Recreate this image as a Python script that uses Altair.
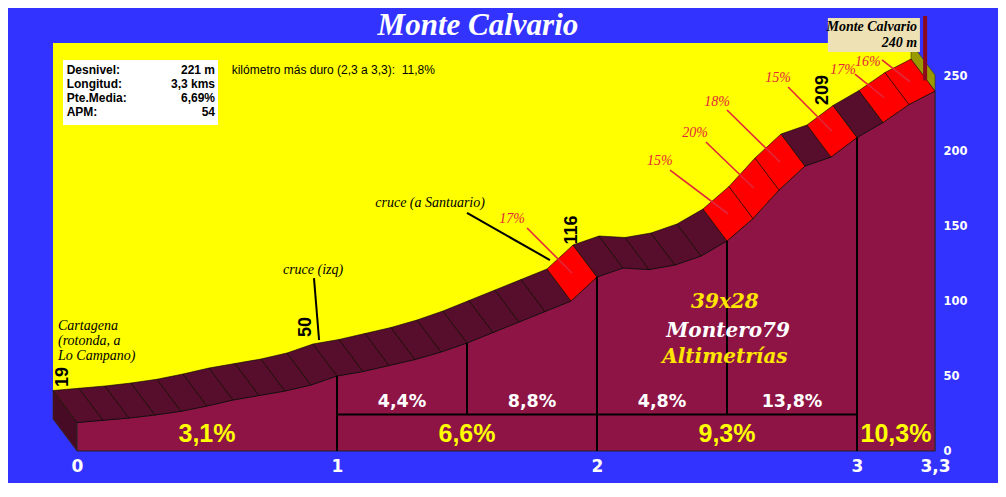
import altair as alt
import pandas as pd

# ---------------- data ----------------
km = [0.0, 0.1, 0.2, 0.3, 0.4, 0.5, 0.6, 0.7, 0.8, 0.9, 1.0,
      1.1, 1.2, 1.3, 1.4, 1.5, 1.6, 1.7, 1.8, 1.9, 2.0,
      2.1, 2.2, 2.3, 2.4, 2.5, 2.6, 2.7, 2.8, 2.9, 3.0,
      3.1, 3.2, 3.3]
elev = [19, 20.5, 22, 24, 26.5, 30, 34, 37, 40, 44, 50,
        53, 57, 61, 66, 72, 79, 86, 93, 100, 116,
        122, 121, 124, 130, 140, 155, 174, 190, 196, 209,
        219, 231, 240]

red_seg_start = [1.9, 2.5, 2.6, 2.7, 2.9, 3.1, 3.2]
red_seg_text = ["17%", "15%", "20%", "18%", "15%", "17%", "16%"]
red_text_km = [1.673, 2.242, 2.377, 2.462, 2.696, 2.946, 3.042]
red_text_m = [154.7, 193.3, 212.0, 232.7, 248.7, 254.0, 259.3]
red_line_km = [1.731, 2.281, 2.419, 2.500, 2.735, 2.992, 3.096]
red_line_m = [148.7, 187.3, 206.0, 227.3, 242.7, 251.3, 260.7]

point_text = ["19", "50", "116", "209"]
point_km = [-0.054, 0.881, 1.904, 2.869]
point_m = [49.3, 82.7, 147.3, 240.7]

upper_km = [1.25, 1.75, 2.25, 2.75]
upper_text = ["4,4%", "8,8%", "4,8%", "13,8%"]
lower_km = [0.5, 1.5, 2.5, 3.15]
lower_text = ["3,1%", "6,6%", "9,3%", "10,3%"]

divider_km = [1.0, 1.5, 2.0, 2.5, 3.0]
divider_low = [0, 24.4, 0, 24.4, 0]
row_line_m = 24.4

note_text = ["cruce (izq)", "cruce (a Santuario)"]
note_km = [0.908, 1.358]
note_m = [120.7, 165.3]
note_l1_km = [0.9115, 1.50]
note_l1_m = [115.3, 158.7]
note_l2_km = [0.931, 1.819]
note_l2_m = [74.0, 127.3]

start_text = ["Cartagena", "(rotonda, a", "Lo Campano)"]
start_km = [-0.073, -0.073, -0.073]
start_m = [83.3, 73.3, 63.3]

info_keys = ["Desnivel:", "Longitud:", "Pte.Media:", "APM:"]
info_vals = ["221 m", "3,3 kms", "6,69%", "54"]
info_m = [254.0, 244.5, 235.1, 225.8]
hard_km_text = "kilómetro más duro (2,3 a 3,3): \u00a011,8%"

summit_name = "Monte Calvario"
summit_elev_text = "240 m"
title_text = "Monte Calvario"
wm_text = ["39x28", "Montero79", "Altimetrías"]
wm_color = ["#FFE600", "#FFFFFF", "#FFE600"]
wm_km = [2.492, 2.504, 2.492]
wm_m = [95.3, 75.8, 58.4]

x_ticks = [0, 1, 2, 3, 3.3]
y_ticks = [0, 50, 100, 150, 200, 250]

# ---------------- layout ----------------
W, H = 990, 475
PX_KM, PX_M = 260.0, 1.5
X0, Y0 = 69, 443
x_dom = [-X0 / PX_KM, (W - X0) / PX_KM]
y_dom = [-(H - Y0) / PX_M, Y0 / PX_M]
DX = -24 / PX_KM
DY = 32 / PX_M
TOP = 272.0

BLUE = "#3333FF"
YELLOW = "#FFFF00"
FRONT = "#8E1446"
DARK = "#570E2D"
SIDE = "#480B25"
RED = "#FF0000"
OLIVE = "#999900"
REDTXT = "#E3263A"

xs = alt.Scale(domain=x_dom, nice=False, zero=False)
ys = alt.Scale(domain=y_dom, nice=False, zero=False)

x_axis = alt.Axis(values=x_ticks, labelExpr="replace(toString(datum.value), '.', ',')",
                  orient="bottom", offset=-(H - Y0), domain=False, ticks=False,
                  grid=False, title=None, labelColor="white", labelFont="DejaVu Sans",
                  labelFontWeight="bold", labelFontSize=17, labelPadding=7,
                  labelOverlap=False, labelFlush=False)
y_axis = alt.Axis(values=y_ticks, orient="right", offset=-(W - X0 - 3.3 * PX_KM),
                  domain=False, ticks=False, grid=False, title=None,
                  labelColor="white", labelFont="DejaVu Sans", labelFontWeight="bold",
                  labelFontSize=11.5, labelPadding=8, labelOverlap=False, labelFlush=False)


def X(f="x"):
    return alt.X(f + ":Q", scale=xs, axis=x_axis)


def Y(f="y"):
    return alt.Y(f + ":Q", scale=ys, axis=y_axis)


# polygons: band segments, side faces
rows = []
for i in range(len(km) - 1):
    x1, y1, x2, y2 = km[i], elev[i], km[i + 1], elev[i + 1]
    col = RED if round(km[i], 1) in red_seg_start else DARK
    pts = [(x1, y1), (x2, y2), (x2 + DX, y2 + DY), (x1 + DX, y1 + DY), (x1, y1)]
    for j, (px, py) in enumerate(pts):
        rows.append(dict(poly=i, o=j, x=px, y=py, fill=col))
band_df = pd.DataFrame(rows)

side_rows = []
olive_pts = [(km[-1] + DX, TOP), (km[-1], TOP - DY), (km[-1], 0), (km[-1] + DX, DY), (km[-1] + DX, TOP)]
for j, (px, py) in enumerate(olive_pts):
    side_rows.append(dict(poly=0, o=j, x=px, y=py, fill=OLIVE))
left_pts = [(DX, elev[0] + DY), (km[0], elev[0]), (km[0], 0), (DX, DY), (DX, elev[0] + DY)]
for j, (px, py) in enumerate(left_pts):
    side_rows.append(dict(poly=1, o=j, x=px, y=py, fill=SIDE))
side_df = pd.DataFrame(side_rows)

prof_df = pd.DataFrame({"x": km, "y": elev})

wall = alt.Chart(pd.DataFrame({"x": [km[0] + DX], "x2": [km[-1] + DX], "y": [DY], "y2": [TOP]})).mark_rect(
    color=YELLOW).encode(x=X(), x2="x2:Q", y=Y(), y2="y2:Q")

sides = alt.Chart(side_df).mark_line(strokeWidth=0.6, stroke="#333300").encode(
    x=X(), y=Y(), order="o:Q", detail="poly:N", fill=alt.Fill("fill:N", scale=None))

front = alt.Chart(prof_df).mark_area(color=FRONT, stroke="#222222", strokeWidth=1).encode(
    x=X(), y=Y(), y2=alt.datum(0))

band = alt.Chart(band_df).mark_line(stroke="black", strokeWidth=0.6).encode(
    x=X(), y=Y(), order="o:Q", detail="poly:N", fill=alt.Fill("fill:N", scale=None))

elev_at = {round(k, 1): e for k, e in zip(km, elev)}
div_df = pd.DataFrame({"x": divider_km, "y": divider_low, "y2": [elev_at[round(k, 1)] for k in divider_km]})
dividers = alt.Chart(div_df).mark_rule(color="black", strokeWidth=2).encode(x=X(), y=Y(), y2="y2:Q")
hline = alt.Chart(pd.DataFrame({"x": [divider_km[0]], "x2": [divider_km[-1]], "y": [row_line_m]})).mark_rule(
    color="black", strokeWidth=2).encode(x=X(), x2="x2:Q", y=Y())

upper = alt.Chart(pd.DataFrame({"x": upper_km, "y": [29.6] * 4, "t": upper_text})).mark_text(
    font="DejaVu Sans", fontWeight="bold", fontSize=17.5, color="white", baseline="alphabetic").encode(
    x=X(), y=Y(), text="t:N")
lower = alt.Chart(pd.DataFrame({"x": lower_km, "y": [6.2] * 4, "t": lower_text})).mark_text(
    font="Liberation Sans", fontWeight="bold", fontSize=25, color="#FFFF00",
    baseline="alphabetic").encode(x=X(), y=Y(), text="t:N")

seg_mid_km = [s + 0.05 + DX / 2 for s in red_seg_start]
seg_mid_m = [(elev_at[round(s, 1)] + elev_at[round(s + 0.1, 1)]) / 2 + DY / 2 for s in red_seg_start]
red_lines = alt.Chart(pd.DataFrame({"x": red_line_km, "y": red_line_m, "x2": seg_mid_km, "y2": seg_mid_m})).mark_rule(
    color=REDTXT, strokeWidth=1.6).encode(x=X(), y=Y(), x2="x2:Q", y2="y2:Q")
red_txt = alt.Chart(pd.DataFrame({"x": red_text_km, "y": red_text_m, "t": red_seg_text})).mark_text(
    font="Liberation Serif", fontStyle="italic", fontSize=14, color=REDTXT).encode(x=X(), y=Y(), text="t:N")

note_lines = alt.Chart(pd.DataFrame({"x": note_l1_km, "y": note_l1_m, "x2": note_l2_km, "y2": note_l2_m})).mark_rule(
    color="black", strokeWidth=2).encode(x=X(), y=Y(), x2="x2:Q", y2="y2:Q")
notes = alt.Chart(pd.DataFrame({"x": note_km, "y": note_m, "t": note_text})).mark_text(
    font="Liberation Serif", fontStyle="italic", fontSize=14, color="black").encode(x=X(), y=Y(), text="t:N")
start = alt.Chart(pd.DataFrame({"x": start_km, "y": start_m, "t": start_text})).mark_text(
    font="Liberation Serif", fontStyle="italic", fontSize=14, color="black", align="left").encode(
    x=X(), y=Y(), text="t:N")

points = alt.Chart(pd.DataFrame({"x": point_km, "y": point_m, "t": point_text})).mark_text(
    font="Liberation Sans", fontWeight="bold", fontSize=18, color="black", angle=270).encode(
    x=X(), y=Y(), text="t:N")

info_box = alt.Chart(pd.DataFrame({"x": [-0.0538], "x2": [0.5423], "y": [217.3], "y2": [260.7]})).mark_rect(
    color="white").encode(x=X(), x2="x2:Q", y=Y(), y2="y2:Q")
info_k = alt.Chart(pd.DataFrame({"x": [-0.0396] * 4, "y": info_m, "t": info_keys})).mark_text(
    font="Liberation Sans", fontWeight="bold", fontSize=12, color="black", align="left").encode(
    x=X(), y=Y(), text="t:N")
info_v = alt.Chart(pd.DataFrame({"x": [0.5308] * 4, "y": info_m, "t": info_vals})).mark_text(
    font="Liberation Sans", fontWeight="bold", fontSize=12, color="black", align="right").encode(
    x=X(), y=Y(), text="t:N")
hard = alt.Chart(pd.DataFrame({"x": [0.595], "y": [254.0], "t": [hard_km_text]})).mark_text(
    font="Liberation Sans", fontSize=12, color="black", align="left").encode(x=X(), y=Y(), text="t:N")

pole = alt.Chart(pd.DataFrame({"x": [3.262], "y": [247.0], "y2": [290.0]})).mark_rule(
    color="#8B0A1E", strokeWidth=4).encode(x=X(), y=Y(), y2="y2:Q")
sum_box = alt.Chart(pd.DataFrame({"x": [2.888], "x2": [3.242], "y": [266.0], "y2": [288.7]})).mark_rect(
    color="#EEE2B5").encode(x=X(), x2="x2:Q", y=Y(), y2="y2:Q")
sum_txt = alt.Chart(pd.DataFrame({"x": [3.231, 3.231], "y": [282.7, 272.0], "t": [summit_name, summit_elev_text]})).mark_text(
    font="Liberation Serif", fontStyle="italic", fontWeight="bold", fontSize=14, color="black",
    align="right").encode(x=X(), y=Y(), text="t:N")

title = alt.Chart(pd.DataFrame({"x": [1.542], "y": [277.5], "t": [title_text]})).mark_text(
    font="Liberation Serif", fontStyle="italic", fontWeight="bold", fontSize=31, color="white",
    baseline="alphabetic").encode(x=X(), y=Y(), text="t:N")

wm = alt.Chart(pd.DataFrame({"x": wm_km, "y": wm_m, "t": wm_text, "c": wm_color})).mark_text(
    font="DejaVu Serif", fontStyle="italic", fontWeight="bold", fontSize=20, baseline="alphabetic").encode(
    x=X(), y=Y(), text="t:N", color=alt.Color("c:N", scale=None))

chart = alt.layer(
    wall, sides, front, band, dividers, hline, upper, lower, wm,
    red_lines, red_txt, note_lines, notes, start, points,
    info_box, info_k, info_v, hard, pole, sum_box, sum_txt, title
).properties(
    width=W, height=H, autosize=alt.AutoSizeParams(type="none"), padding=0
).configure(background=BLUE).configure_view(stroke=None)

chart.save("out.html", embed_options={"renderer": "svg", "actions": False})
